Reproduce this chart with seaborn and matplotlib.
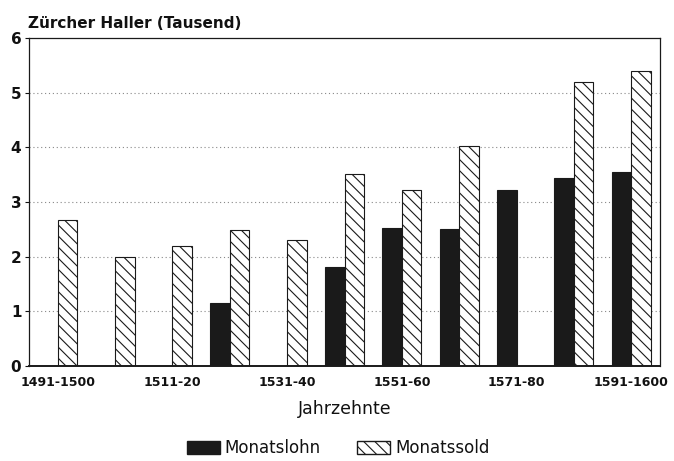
import numpy as np
import pandas as pd
import matplotlib
matplotlib.use("Agg")
import matplotlib.pyplot as plt
import seaborn as sns
from matplotlib.patches import Patch

decades = ["1491-1500", "1501-10", "1511-20", "1521-30", "1531-40", "1541-50",
           "1551-60", "1561-70", "1571-80", "1581-90", "1591-1600"]
monatslohn = [None, None, None, 1.15, None, 1.81, 2.52, 2.50, 3.22, 3.44, 3.55]
monatssold = [2.67, 1.99, 2.19, 2.49, 2.31, 3.51, 3.22, 4.02, None, 5.19, 5.39]
series = ["Monatslohn", "Monatssold"]
shown_ticks = ["1491-1500", "1511-20", "1531-40", "1551-60", "1571-80", "1591-1600"]

rows = []
for d, a, b in zip(decades, monatslohn, monatssold):
    rows.append({"Jahrzehnt": d, "Art": series[0], "Wert": np.nan if a is None else a})
    rows.append({"Jahrzehnt": d, "Art": series[1], "Wert": np.nan if b is None else b})
df = pd.DataFrame(rows)

sns.set_style("white")
plt.rcParams["font.family"] = ["DejaVu Sans"]
plt.rcParams["hatch.linewidth"] = 0.8
for k in ["text.color", "axes.labelcolor", "xtick.color", "ytick.color"]:
    plt.rcParams[k] = "#111111"

fig = plt.figure(figsize=(6.74, 4.61), dpi=100)
ax = fig.add_axes([29/674, 1-366/461, (660-29)/674, (366-38)/461])

sns.barplot(data=df, x="Jahrzehnt", y="Wert", hue="Art", order=decades,
            hue_order=series, palette=["#1a1a1a", "white"], width=0.68,
            edgecolor="#1a1a1a", linewidth=0.8, saturation=1, legend=False, ax=ax)

for p in ax.containers[1]:
    p.set_hatch("\\\\\\")
    p.set_facecolor("white")
    p.set_edgecolor("#1a1a1a")

ax.set_xlim(-0.5, len(decades) - 0.5)
ax.set_ylim(0, 6)
ax.set_yticks(range(0, 7))
ax.set_yticklabels([str(i) for i in range(0, 7)], fontsize=11, fontweight="bold")
ax.set_xticks([decades.index(t) for t in shown_ticks])
ax.set_xticklabels(shown_ticks, fontsize=9, fontweight="bold")
ax.tick_params(axis="x", length=0, pad=7)
ax.tick_params(axis="y", length=3, width=0.8, direction="out", pad=2.5, left=True)
for y in range(1, 6):
    ax.axhline(y, color="#888888", lw=0.8, ls=(0, (1, 2.5)), zorder=0)
for s in ax.spines.values():
    s.set_color("#1a1a1a")
    s.set_linewidth(0.9)
ax.spines["bottom"].set_linewidth(1.4)
ax.set_ylabel("")
ax.set_xlabel("Jahrzehnte", fontsize=12.5, labelpad=8)
fig.text(28/674, 1-28/461, "Zürcher Haller (Tausend)", fontsize=11,
         fontweight="bold", ha="left", va="baseline")

handles = [Patch(facecolor="#1a1a1a", edgecolor="#1a1a1a", label=series[0]),
           Patch(facecolor="white", edgecolor="#1a1a1a", hatch="\\\\\\", label=series[1])]
fig.legend(handles=handles, loc="center", bbox_to_anchor=(338/674, 1-448/461),
           ncol=2, frameon=False, fontsize=12, handlelength=2.0, handleheight=0.8,
           columnspacing=2.15, handletextpad=0.3)

fig.savefig("out.png", dpi=100)
